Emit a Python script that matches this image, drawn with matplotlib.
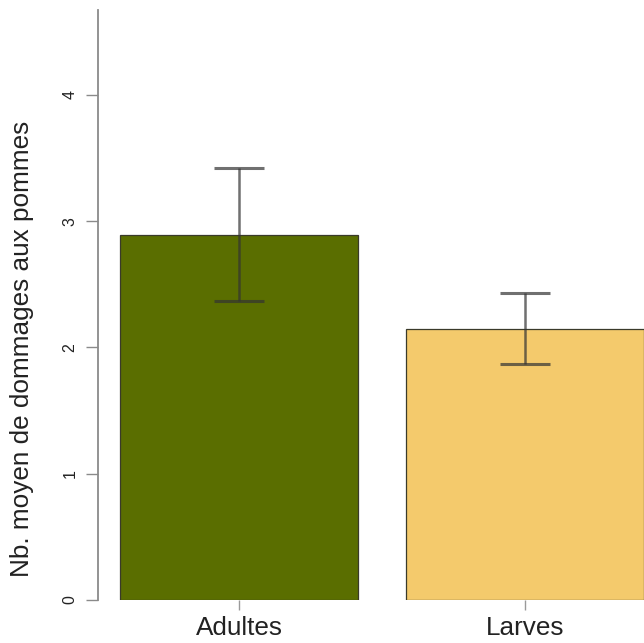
import matplotlib
matplotlib.use("Agg")
import matplotlib.pyplot as plt
import numpy as np

categories = ["Adultes", "Larves"]
means = [2.89, 2.15]
upper = [3.42, 2.43]
lower = [2.37, 1.87]
colors = ["#5a6e00", "#f4ca6c"]
yticks = [0, 1, 2, 3, 4]

plt.rcParams['font.family'] = ['Liberation Sans', 'DejaVu Sans']

W, H = 644, 643
fig = plt.figure(figsize=(W / 100, H / 100), dpi=100)
ax_left, ax_right, ax_bottom, ax_top = 98, 644, 600, 10
ax = fig.add_axes([ax_left / W, (H - ax_bottom) / H,
                   (ax_right - ax_left) / W, (ax_bottom - ax_top) / H])

x = np.arange(len(categories))
ax.bar(x, means, width=0.832, color=colors, edgecolor="#3a3a2a", linewidth=0.9, zorder=2)
m = np.array(means)
yerr = np.vstack([m - np.array(lower), np.array(upper) - m])
ax.errorbar(x, m, yerr=yerr, fmt="none", ecolor="#333333", alpha=0.7,
            elinewidth=1.8, capsize=18, capthick=2.2, zorder=3)

ax.set_xlim(-0.493, 1.416)
ax.set_ylim(0, 4.673)
ax.set_yticks(yticks)
ax.set_yticklabels([str(t) for t in yticks], rotation=90, va="center",
                   fontsize=11.5, color="#222222")
ax.set_xticks(x)
ax.set_xticklabels(categories, fontsize=18.8, color="#222222")

for s in ["top", "right", "bottom"]:
    ax.spines[s].set_visible(False)
ax.spines["left"].set_color("#8a8a8a")
ax.spines["left"].set_linewidth(1.3)
ax.tick_params(axis="y", direction="out", length=8.6, width=1.0, color="#8a8a8a", pad=6)
ax.tick_params(axis="x", direction="out", length=7, width=1.0, color="#9a9a9a", pad=4.5)

fig.text(22 / W, 1 - 349 / H, "Nb. moyen de dommages aux pommes", rotation=90,
         va="center", ha="center", fontsize=18.8, color="#222222")

fig.savefig("out.png", dpi=100)
